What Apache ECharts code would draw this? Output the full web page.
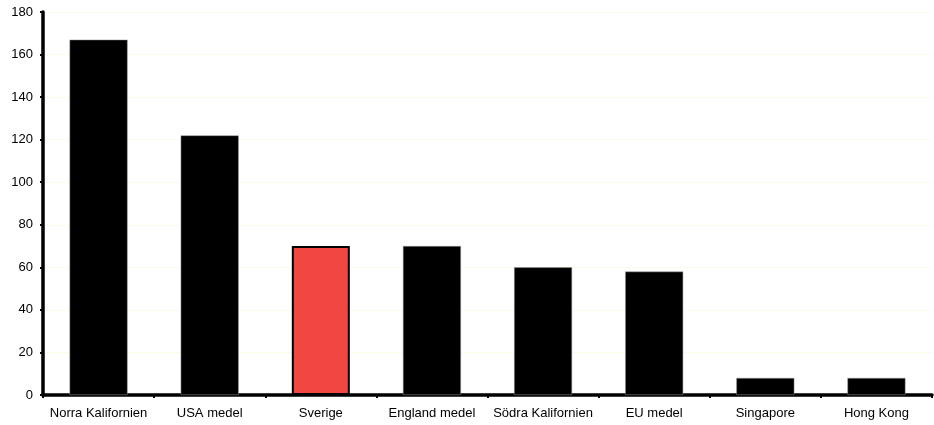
<!DOCTYPE html>
<html>
<head>
    <meta charset="utf-8">
    <script src="https://cdn.jsdelivr.net/npm/echarts@6/dist/echarts.min.js"></script>
    <style>
        html, body { margin: 0; padding: 0; background: #fff; }
        #main { width: 934px; height: 425px; }
    </style>
</head>
<body>
    <div id="main"></div>
    <script>
        var categories = ['Norra Kalifornien', 'USA medel', 'Sverige', 'England medel', 'Södra Kalifornien', 'EU medel', 'Singapore', 'Hong Kong'];
        var values = [167, 122, 70, 70, 60, 58, 8, 8];
        var highlight = 'Sverige';

        var chart = echarts.init(document.getElementById('main'));

        var barData = categories.map(function (name, i) {
            if (name === highlight) {
                return {
                    value: values[i],
                    itemStyle: { color: '#f04840', borderColor: '#000', borderWidth: 2 }
                };
            }
            return values[i];
        });

        var option = {
            animation: false,
            textStyle: { fontFamily: 'Liberation Sans, Arial, sans-serif' },
            grid: { left: 43, right: 2, top: 12, bottom: 30, containLabel: false },
            xAxis: {
                type: 'category',
                data: categories,
                axisLine: { lineStyle: { color: '#000', width: 3.5 } },
                axisTick: { show: true, length: 3, lineStyle: { color: '#000', width: 2 } },
                axisLabel: { color: '#000', fontSize: 13, margin: 12, interval: 0 }
            },
            yAxis: {
                type: 'value',
                min: 0,
                max: 180,
                interval: 20,
                axisLine: { show: true, lineStyle: { color: '#000', width: 3.5 } },
                axisTick: { show: true, length: 3, lineStyle: { color: '#000', width: 2 } },
                axisLabel: { color: '#000', fontSize: 13, margin: 10 },
                splitLine: { lineStyle: { color: '#fbfbe6', width: 1 } }
            },
            series: [{
                type: 'bar',
                data: barData,
                barWidth: 58,
                itemStyle: { color: '#000', borderColor: '#999', borderWidth: 0.5 }
            }]
        };

        chart.setOption(option);
    </script>
</body>
</html>
